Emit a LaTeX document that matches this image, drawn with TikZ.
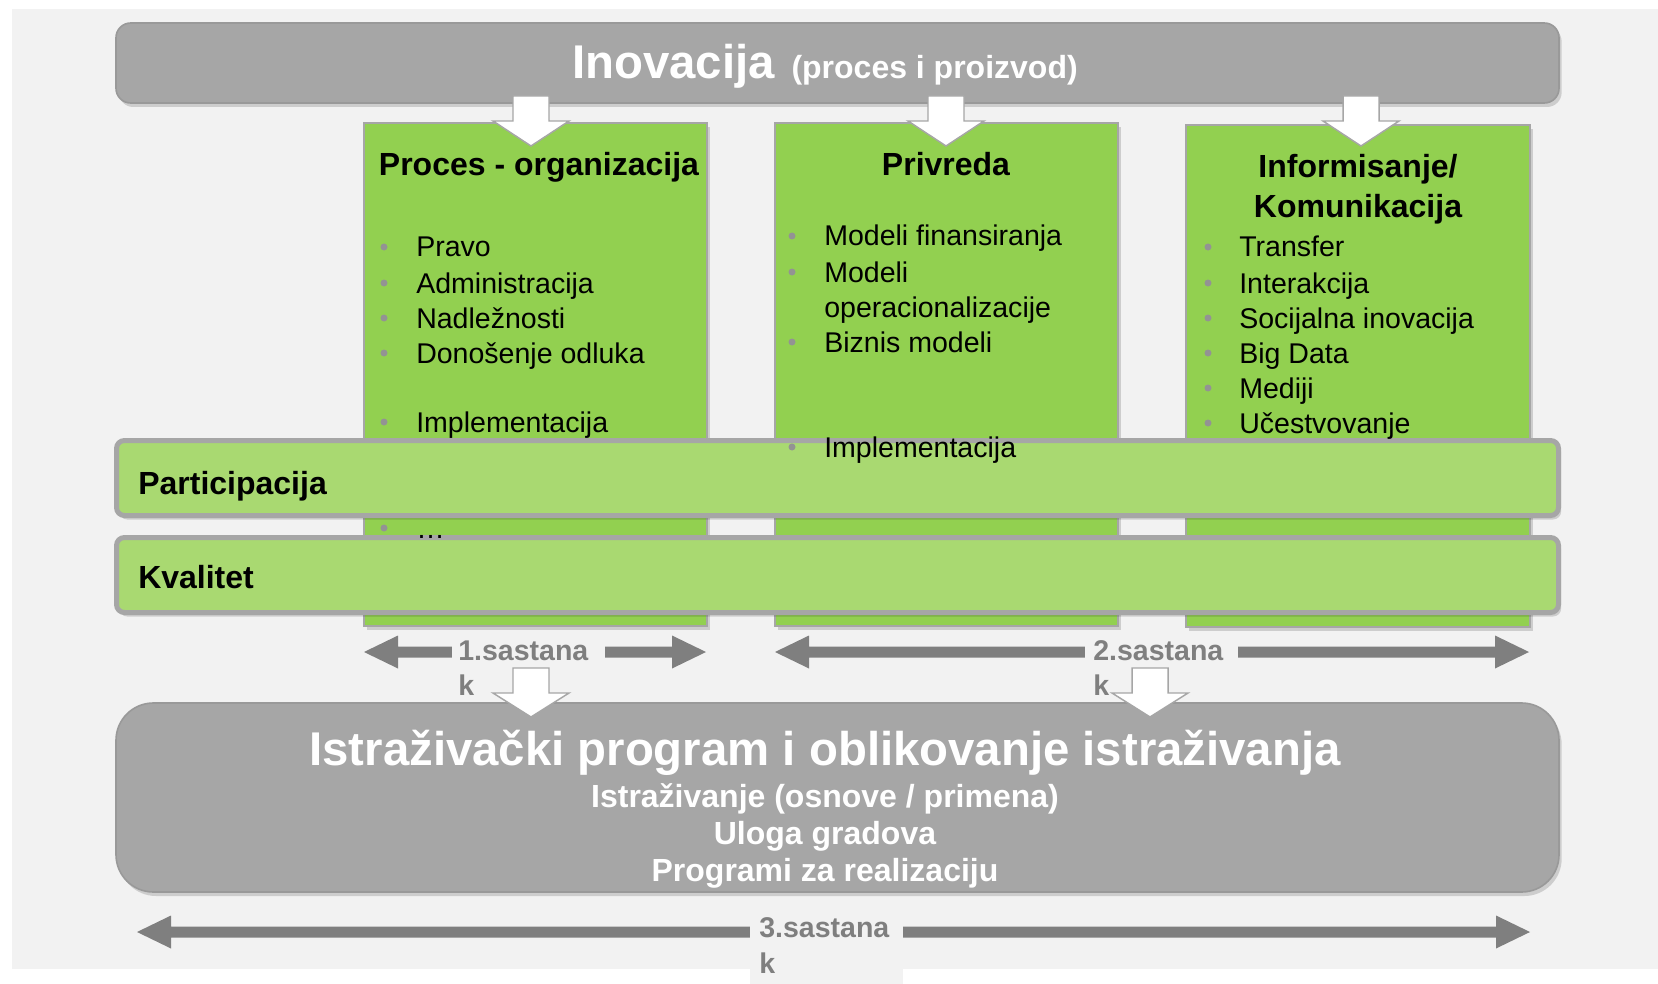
\documentclass[tikz,border=0pt]{standalone}
\usepackage{fontspec}
\setmainfont{Liberation Sans}
\usetikzlibrary{shadows}
\definecolor{bgc}{HTML}{F2F2F2}
\definecolor{greyfill}{HTML}{A6A6A6}
\definecolor{greyline}{HTML}{999999}
\definecolor{boxgreen}{HTML}{92D050}
\definecolor{bargreen}{HTML}{A9D971}
\definecolor{arrgrey}{HTML}{7F7F7F}
\definecolor{bulletc}{HTML}{939393}
\newcommand\hdarrow[3]{%
  \fill[arrgrey] (#1,#3) -- ({#1+34},{#3-16.5}) -- ({#1+34},{#3-5.5}) -- ({#2-34},{#3-5.5}) -- ({#2-34},{#3-16.5}) -- (#2,#3) -- ({#2-34},{#3+16.5}) -- ({#2-34},{#3+5.5}) -- ({#1+34},{#3+5.5}) -- ({#1+34},{#3+16.5}) -- cycle;}
\newcommand\dnarrow[4]{%
  \draw[whitearrow] ({#1-18},#2) -- ({#1+18},#2) -- ({#1+18},#3) -- ({#1+38},#3) -- (#1,#4) -- ({#1-38},#3) -- ({#1-18},#3) -- cycle;}
\newcommand\bul[2]{\fill[bulletc] (#1,{#2-10}) circle (3.5);}
\begin{document}
\begin{tikzpicture}[x=0.75pt,y=-0.75pt,
  shade/.style={drop shadow={shadow xshift=2pt,shadow yshift=-3pt,opacity=0.15,fill=black}},
  greybar/.style={fill=greyfill,draw=greyline,line width=1.2pt,shade},
  greenbox/.style={fill=boxgreen,draw=greyfill,line width=1.5pt,shade},
  lightbar/.style={fill=bargreen,draw=greyfill,line width=3.75pt,rounded corners=6pt,shade},
  whitearrow/.style={fill=white,draw=greyfill,line width=1.1pt,line join=miter},
  itm/.style={anchor=base west,inner sep=0pt,font=\fontsize{21.4}{25}\selectfont},
  head/.style={anchor=base,inner sep=0pt,font=\fontsize{24}{29}\selectfont\bfseries},
  barlbl/.style={anchor=base west,inner sep=0pt,font=\fontsize{24}{29}\selectfont\bfseries},
  sastlbl/.style={anchor=base west,inner sep=0pt,text=arrgrey,font=\fontsize{21.4}{25}\selectfont\bfseries},
  wtxt/.style={text=white,inner sep=0pt,anchor=base}
]
\useasboundingbox (0,0) rectangle (1658,984);
\fill[fill=white] (0,0) rectangle (1658,984);
\fill[bgc] (12,9) rectangle (1658,969);

% horizontal double arrows
\hdarrow{364}{706}{652}
\hdarrow{775}{1529}{652}
\hdarrow{137}{1530}{932}

% label backgrounds and texts
\fill[bgc] (452,638) rectangle (605,700);
\fill[bgc] (1085,638) rectangle (1238,700);
\fill[bgc] (750,912) rectangle (903,984);
\node[sastlbl] (s1a) at (458,660) {1.sastana};
\node[sastlbl] (s1b) at (458,695) {k};
\node[sastlbl] (s2a) at (1093,660) {2.sastana};
\node[sastlbl] (s2b) at (1093,695) {k};
\node[sastlbl] (s3a) at (759,937) {3.sastana};
\node[sastlbl] (s3b) at (759,973) {k};

% green boxes
\draw[greenbox] (364,123) rectangle (707,626);
\draw[greenbox] (775,123) rectangle (1118,626);
\draw[greenbox] (1186,125) rectangle (1530,627);

% horizontal bars
\draw[lightbar] (116.5,440.5) rectangle (1558.5,515.5);
\draw[lightbar] (116.5,537.5) rectangle (1558.5,612.5);

% top and bottom grey bars
\draw[greybar,rounded corners=11pt] (116,23) rectangle (1559,103);
\draw[greybar,rounded corners=28pt] (116,703) rectangle (1559,892);

% white block arrows
\dnarrow{531}{96}{121}{146}
\dnarrow{946}{96}{121}{146}
\dnarrow{1361}{96}{121}{146}
\dnarrow{531}{668}{693}{717}
\dnarrow{1150}{668}{693}{717}

% top text
\node[wtxt] (inov) at (825,79) {{\fontsize{35.5}{42}\selectfont\bfseries Inovacija}\hspace{12.5pt}{\fontsize{24}{29}\selectfont\bfseries (proces i proizvod)}};

% box 1
\node[head] (h1) at (539,176) {Proces - organizacija};
\bul{384}{257}\node[itm] (a1) at (416,257) {Pravo};
\bul{384}{293}\node[itm] (a2) at (416,293) {Administracija};
\bul{384}{328}\node[itm] (a3) at (416,328) {Nadležnosti};
\bul{384}{363}\node[itm] (a4) at (416,363) {Donošenje odluka};
\bul{384}{432}\node[itm] (a5) at (416,432) {Implementacija};
\bul{384}{538}\node[itm] (a6) at (416,538) {…};

% box 2
\node[head] (h2) at (946,176) {Privreda};
\bul{792}{246}\node[itm] (b1) at (824,246) {Modeli finansiranja};
\bul{792}{282}\node[itm] (b2) at (824,282) {Modeli};
\node[itm] (b3) at (824,317) {operacionalizacije};
\bul{792}{352}\node[itm] (b4) at (824,352) {Biznis modeli};
\bul{792}{457}\node[itm] (b5) at (824,457) {Implementacija};

% box 3
\node[head] (h3a) at (1358,178) {Informisanje/};
\node[head] (h3b) at (1358,218) {Komunikacija};
\bul{1208}{257}\node[itm] (c1) at (1239,257) {Transfer};
\bul{1208}{293}\node[itm] (c2) at (1239,293) {Interakcija};
\bul{1208}{328}\node[itm] (c3) at (1239,328) {Socijalna inovacija};
\bul{1208}{363}\node[itm] (c4) at (1239,363) {Big Data};
\bul{1208}{398}\node[itm] (c5) at (1239,398) {Mediji};
\bul{1208}{433}\node[itm] (c6) at (1239,433) {Učestvovanje};

% bar labels
\node[barlbl] (part) at (138,494) {Participacija};
\node[barlbl] (kval) at (138,588) {Kvalitet};

% bottom box texts
\node[wtxt,font=\fontsize{35.5}{42}\selectfont\bfseries] (ist) at (825,765) {Istraživački program i oblikovanje istraživanja};
\node[wtxt,font=\fontsize{24}{29}\selectfont\bfseries] (l2) at (825,807) {Istraživanje (osnove / primena)};
\node[wtxt,font=\fontsize{24}{29}\selectfont\bfseries] (l3) at (825,844) {Uloga gradova};
\node[wtxt,font=\fontsize{24}{29}\selectfont\bfseries] (l4) at (825,881) {Programi za realizaciju};
\end{tikzpicture}
\end{document}
